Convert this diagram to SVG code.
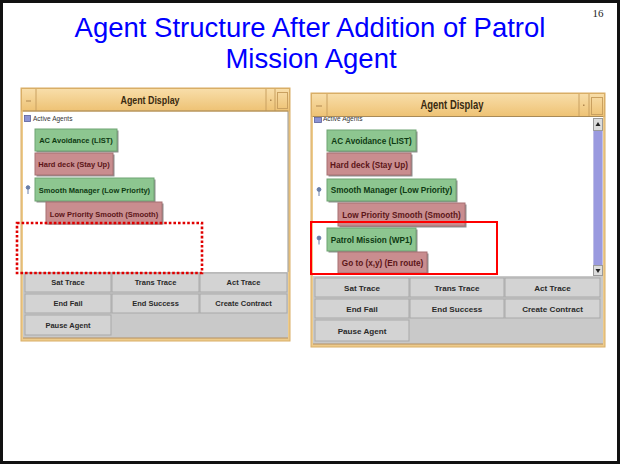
<svg xmlns="http://www.w3.org/2000/svg" width="621" height="466" viewBox="0 0 621 466">
  <style>
    .title { font-family: "Liberation Sans", Arial, sans-serif; font-size: 27.5px; fill: #0000FF; text-anchor: middle; }
    .pnum { font-family: "Liberation Serif", "Times New Roman", serif; font-size: 11px; fill: #222; text-anchor: middle; }
    .frame { fill: #EDCB8C; stroke: #D9AE66; stroke-width: 1; }
    .content { fill: #FFFFFF; }
    .btnarea { fill: #C9C9C9; }
    .btn { fill: #D3D3D3; stroke: #A9A9A9; stroke-width: 1; }
    .wtitle { font-family: "Liberation Sans", Arial, sans-serif; font-weight: bold; fill: #3A2A10; text-anchor: middle; }
    .small { font-family: "Liberation Sans", Arial, sans-serif; font-size: 6.5px; fill: #333; }
    .lbl { font-family: "Liberation Sans", Arial, sans-serif; font-weight: bold; text-anchor: middle; }
    .btxt { font-family: "Liberation Sans", Arial, sans-serif; font-weight: bold; fill: #2A2A2A; text-anchor: middle; }
    .g { fill: #8DC690; stroke: #6FA372; stroke-width: 1; }
    .r { fill: #C98D8F; stroke: #A77073; stroke-width: 1; }
    .gt { fill: #0E3A12; }
    .rt { fill: #5C1518; }
    .shadow { fill: #8E8E8E; }
    .pin { fill: #6A7FA8; stroke: #6A7FA8; }
    .tbsep { stroke: #C9A060; stroke-width: 1; }
  </style>
  <defs>
    <linearGradient id="titleGrad" x1="0" y1="0" x2="0" y2="1">
      <stop offset="0" stop-color="#F8DEAA"/>
      <stop offset="1" stop-color="#EEC274"/>
    </linearGradient>
  </defs>

  <!-- slide background and border -->
  <rect x="1.5" y="1.5" width="617" height="461" fill="#FFFFFF" stroke="#111" stroke-width="3"/>
  <text class="pnum" x="598" y="17">16</text>

  <!-- slide heading -->
  <g id="heading">
    <text class="title" x="310" y="37">Agent Structure After Addition of Patrol</text>
    <text class="title" x="311" y="68">Mission Agent</text>
  </g>

  <!-- ===== left window: before ===== -->
  <g id="window-before">
    <rect class="frame" x="21" y="88" width="269" height="253"/>
    <rect class="content" x="23" y="111" width="265" height="161"/>
    <line x1="288" y1="111" x2="288" y2="272" stroke="#999" stroke-width="1"/>
    <!-- title bar -->
    <rect x="21.5" y="88.5" width="268" height="22.5" fill="url(#titleGrad)" stroke="#D9AE66"/>
    <line class="tbsep" x1="36" y1="89" x2="36" y2="111"/>
    <line x1="26" y1="101" x2="31" y2="101" stroke="#B08850" stroke-width="1"/>
    <line class="tbsep" x1="266" y1="89" x2="266" y2="111"/>
    <line class="tbsep" x1="275" y1="89" x2="275" y2="111"/>
    <rect x="270" y="99.5" width="1.5" height="1.5" fill="#B08850"/>
    <rect x="277.5" y="92.5" width="10" height="16" fill="none" stroke="#C9A060"/>
    <line x1="23" y1="111" x2="288" y2="111" stroke="#A88A58" stroke-width="1"/>
    <text class="wtitle" x="150" y="104" font-size="11" textLength="59" lengthAdjust="spacingAndGlyphs">Agent Display</text>
    <!-- tree header -->
    <rect x="24.5" y="115.5" width="6" height="6" fill="#8C93D4" stroke="#5A5F9A" stroke-width="0.8"/>
    <text class="small" x="33" y="121">Active Agents</text>
    <!-- button panel -->
    <rect class="btnarea" x="23" y="272" width="265" height="66"/>
    <line x1="23" y1="338" x2="288" y2="338" stroke="#B59060" stroke-width="1"/>
  </g>

  <g id="before-ac-avoidance">
    <rect class="shadow" x="36.5" y="130.5" width="82" height="22"/>
    <rect class="g" x="35" y="129" width="82" height="22"/>
    <text class="lbl gt" x="76" y="143" font-size="7.5">AC Avoidance (LIST)</text>
  </g>
  <g id="before-hard-deck">
    <rect class="shadow" x="36.5" y="154.5" width="78" height="22"/>
    <rect class="r" x="35" y="153" width="78" height="22"/>
    <text class="lbl rt" x="74" y="167" font-size="7.5">Hard deck (Stay Up)</text>
  </g>
  <g id="before-smooth-manager">
    <path class="pin" d="M28 189.5 L28 194" stroke-width="1"/>
    <circle class="pin" cx="28" cy="187.5" r="1.8"/>
    <rect class="shadow" x="36.5" y="179.5" width="119" height="23"/>
    <rect class="g" x="35" y="178" width="119" height="23"/>
    <text class="lbl gt" x="94.5" y="192.5" font-size="7.5">Smooth Manager (Low Priority)</text>
  </g>
  <g id="before-low-priority-smooth">
    <rect class="shadow" x="47.5" y="203.5" width="116" height="21"/>
    <rect class="r" x="46" y="202" width="116" height="22"/>
    <text class="lbl rt" x="104" y="216.5" font-size="7.5">Low Priority Smooth (Smooth)</text>
  </g>

  <g id="before-buttons">
    <rect class="btn" x="25" y="273" width="86" height="19"/>
    <rect class="btn" x="112" y="273" width="87" height="19"/>
    <rect class="btn" x="200" y="273" width="87" height="19"/>
    <rect class="btn" x="25" y="294" width="86" height="19"/>
    <rect class="btn" x="112" y="294" width="87" height="19"/>
    <rect class="btn" x="200" y="294" width="87" height="19"/>
    <rect class="btn" x="25" y="315" width="86" height="20"/>
    <text class="btxt" x="68" y="285" font-size="7.5">Sat Trace</text>
    <text class="btxt" x="155.5" y="285" font-size="7.5">Trans Trace</text>
    <text class="btxt" x="243.5" y="285" font-size="7.5">Act Trace</text>
    <text class="btxt" x="68" y="306" font-size="7.5">End Fail</text>
    <text class="btxt" x="155.5" y="306" font-size="7.5">End Success</text>
    <text class="btxt" x="243.5" y="306" font-size="7.5">Create Contract</text>
    <text class="btxt" x="68" y="327.5" font-size="7.5">Pause Agent</text>
  </g>

  <!-- empty slot marker -->
  <rect id="empty-slot" x="17" y="223" width="185" height="50" fill="none" stroke="#E00000" stroke-width="2.6" stroke-dasharray="2.6 2"/>

  <!-- ===== right window: after ===== -->
  <g id="window-after">
    <rect class="frame" x="311" y="93" width="294" height="254"/>
    <rect class="content" x="313" y="116" width="290" height="160"/>
    <!-- tree header, partly under the title bar -->
    <rect x="314.5" y="117.5" width="7" height="5" fill="#8C93D4" stroke="#5A5F9A" stroke-width="0.8"/>
    <text class="small" x="323" y="121" font-size="7">Active Agents</text>
    <!-- title bar -->
    <rect x="311.5" y="93.5" width="293" height="23" fill="url(#titleGrad)" stroke="#D9AE66"/>
    <line class="tbsep" x1="327" y1="94" x2="327" y2="116"/>
    <line x1="316" y1="106" x2="322" y2="106" stroke="#B08850" stroke-width="1"/>
    <line class="tbsep" x1="579" y1="94" x2="579" y2="116"/>
    <line class="tbsep" x1="589" y1="94" x2="589" y2="116"/>
    <rect x="583" y="104.5" width="1.5" height="1.5" fill="#B08850"/>
    <rect x="591.5" y="97.5" width="11" height="17" fill="none" stroke="#C9A060"/>
    <line x1="313" y1="116.5" x2="603" y2="116.5" stroke="#A88A58" stroke-width="1"/>
    <text class="wtitle" x="452" y="109" font-size="12" textLength="63" lengthAdjust="spacingAndGlyphs">Agent Display</text>
    <!-- scrollbar -->
    <rect x="593" y="118" width="10" height="158" fill="#E4E4EE"/>
    <rect x="593.5" y="118.5" width="9" height="12" fill="#DCDCDC" stroke="#9A9A9A"/>
    <path d="M598 122 L600.5 126 L595.5 126 Z" fill="#222"/>
    <rect x="593.5" y="131" width="9" height="134" fill="#9A9ADF"/>
    <rect x="593.5" y="265.5" width="9" height="10" fill="#DCDCDC" stroke="#9A9A9A"/>
    <path d="M598 273 L600.5 269 L595.5 269 Z" fill="#222"/>
    <!-- button panel -->
    <rect class="btnarea" x="313" y="276" width="290" height="68"/>
    <line x1="313" y1="344" x2="603" y2="344" stroke="#B59060" stroke-width="1"/>
  </g>

  <g id="after-ac-avoidance">
    <rect class="shadow" x="328.5" y="131.5" width="89" height="21"/>
    <rect class="g" x="327" y="130" width="89" height="21"/>
    <text class="lbl gt" x="371.5" y="144" font-size="8.2">AC Avoidance (LIST)</text>
  </g>
  <g id="after-hard-deck">
    <rect class="shadow" x="328.5" y="154.5" width="84" height="22"/>
    <rect class="r" x="327" y="153" width="84" height="22"/>
    <text class="lbl rt" x="369" y="167.5" font-size="8.2">Hard deck (Stay Up)</text>
  </g>
  <g id="after-smooth-manager">
    <path class="pin" d="M319 191.5 L319 196" stroke-width="1"/>
    <circle class="pin" cx="319" cy="189.5" r="1.9"/>
    <rect class="shadow" x="328.5" y="180.5" width="129" height="22"/>
    <rect class="g" x="327" y="179" width="129" height="22"/>
    <text class="lbl gt" x="391.5" y="193" font-size="8.2">Smooth Manager (Low Priority)</text>
  </g>
  <g id="after-low-priority-smooth">
    <rect class="shadow" x="339.5" y="204.5" width="127" height="23"/>
    <rect class="r" x="338" y="203" width="127" height="23"/>
    <text class="lbl rt" x="401.5" y="217.5" font-size="8.2">Low Priority Smooth (Smooth)</text>
  </g>
  <g id="after-patrol-mission">
    <path class="pin" d="M319 240 L319 244.5" stroke-width="1"/>
    <circle class="pin" cx="319" cy="238" r="1.9"/>
    <rect class="shadow" x="328.5" y="229.5" width="89" height="23"/>
    <rect class="g" x="327" y="228" width="89" height="23"/>
    <text class="lbl gt" x="371.5" y="242.5" font-size="8.2">Patrol Mission (WP1)</text>
  </g>
  <g id="after-go-to">
    <rect class="shadow" x="339.5" y="253.5" width="89" height="21"/>
    <rect class="r" x="338" y="252" width="89" height="21"/>
    <text class="lbl rt" x="382.5" y="265.5" font-size="8.2">Go to (x,y) (En route)</text>
  </g>

  <g id="after-buttons">
    <rect class="btn" x="315" y="278" width="94" height="19"/>
    <rect class="btn" x="410" y="278" width="94" height="19"/>
    <rect class="btn" x="505" y="278" width="95" height="19"/>
    <rect class="btn" x="315" y="299" width="94" height="19"/>
    <rect class="btn" x="410" y="299" width="94" height="19"/>
    <rect class="btn" x="505" y="299" width="95" height="19"/>
    <rect class="btn" x="315" y="320" width="94" height="21"/>
    <text class="btxt" x="362" y="290.5" font-size="8.1">Sat Trace</text>
    <text class="btxt" x="457" y="290.5" font-size="8.1">Trans Trace</text>
    <text class="btxt" x="552.5" y="290.5" font-size="8.1">Act Trace</text>
    <text class="btxt" x="362" y="311.5" font-size="8.1">End Fail</text>
    <text class="btxt" x="457" y="311.5" font-size="8.1">End Success</text>
    <text class="btxt" x="552.5" y="311.5" font-size="8.1">Create Contract</text>
    <text class="btxt" x="362" y="333.5" font-size="8.1">Pause Agent</text>
  </g>

  <!-- highlight around the added agent -->
  <rect id="added-highlight" x="311" y="222" width="186" height="52" fill="none" stroke="#FF0000" stroke-width="2"/>
</svg>
